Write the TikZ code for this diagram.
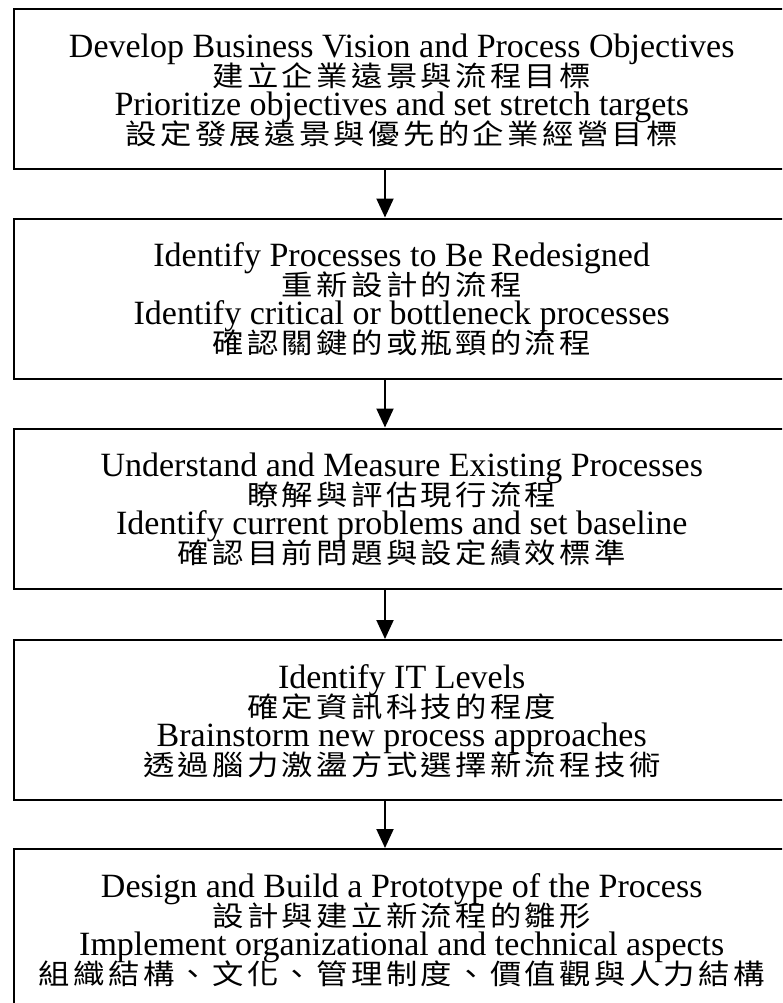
\documentclass[tikz,border=0pt]{standalone}
\usepackage{fontspec}
\setmainfont{Liberation Serif}
\newfontfamily\cjk[FakeStretch=1.12,LetterSpace=12]{Noto Sans CJK TC}
\newcommand{\zh}[1]{\smash{\cjk\fontsize{28}{29}\selectfont #1}}
\usetikzlibrary{arrows.meta}

\begin{document}
\begin{tikzpicture}[line cap=round,line join=miter,>={Triangle[width=17pt,length=19pt]},x=1pt,y=-1pt,
	stage/.style={draw,line width=2pt,minimum width=776pt,minimum height=160pt,inner sep=0pt,align=center,
		font=\fontsize{34}{29}\selectfont},
	flow/.style={->,line width=2pt}]
	\useasboundingbox (0,0) rectangle (782,1003);
	\clip (0,0) rectangle (782,1003);
	\coordinate (spine) at (385,0);
	\node[stage] (vision) at (401.75,89) {Develop Business Vision and Process Objectives\\ \zh{建立企業遠景與流程目標}\\ Prioritize objectives and set stretch targets\\ \zh{設定發展遠景與優先的企業經營目標}};
	\node[stage] (redesign) at (401.75,298.5) {Identify Processes to Be Redesigned\\ \zh{重新設計的流程}\\ Identify critical or bottleneck processes\\ \zh{確認關鍵的或瓶頸的流程}};
	\node[stage] (measure) at (401.75,508.5) {Understand and Measure Existing Processes\\ \zh{瞭解與評估現行流程}\\ Identify current problems and set baseline\\ \zh{確認目前問題與設定績效標準}};
	\node[stage] (itlevels) at (401.75,720) {Identify IT Levels\\ \zh{確定資訊科技的程度}\\ Brainstorm new process approaches\\ \zh{透過腦力激盪方式選擇新流程技術}};
	\node[stage] (prototype) at (401.75,929) {Design and Build a Prototype of the Process\\ \zh{設計與建立新流程的雛形}\\ Implement organizational and technical aspects\\ \zh{組織結構、文化、管理制度、價值觀與人力結構}};
	\draw[flow] (vision.south -| spine) -- (redesign.north -| spine);
	\draw[flow] (redesign.south -| spine) -- (measure.north -| spine);
	\draw[flow] (measure.south -| spine) -- (itlevels.north -| spine);
	\draw[flow] (itlevels.south -| spine) -- (prototype.north -| spine);
\end{tikzpicture}
\end{document}
